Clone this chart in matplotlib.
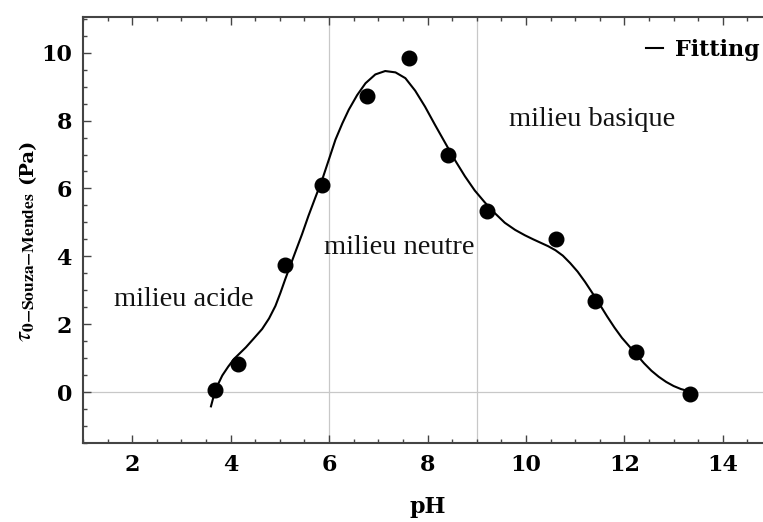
import matplotlib
matplotlib.use('Agg')
import matplotlib.pyplot as plt
from matplotlib.ticker import MultipleLocator

plt.rcParams['mathtext.fontset'] = 'stix'

# measured yield stress vs pH
ph = [3.68, 4.14, 5.10, 5.85, 6.77, 7.62, 8.42, 9.21, 10.62, 11.41, 12.24, 13.34]
tau0 = [0.05, 0.83, 3.75, 6.09, 8.73, 9.83, 6.98, 5.35, 4.50, 2.68, 1.17, -0.05]

# fitted curve, sampled along its length
fit_ph = [3.60, 3.64, 3.68, 3.75, 3.83, 3.95, 4.07, 4.19, 4.31, 4.47, 4.64, 4.78,
          4.91, 5.01, 5.11, 5.21, 5.31, 5.45, 5.58, 5.72, 5.86, 6.00, 6.13, 6.27,
          6.40, 6.57, 6.74, 6.94, 7.14, 7.35, 7.55, 7.75, 7.95, 8.15, 8.36, 8.56,
          8.76, 8.96, 9.17, 9.37, 9.57, 9.78, 9.98, 10.15, 10.30, 10.45, 10.60,
          10.75, 10.90, 11.05, 11.20, 11.35, 11.50, 11.65, 11.80, 11.95, 12.10,
          12.25, 12.40, 12.55, 12.70, 12.85, 13.00, 13.15, 13.30, 13.40]
fit_tau = [-0.42, -0.20, 0.00, 0.25, 0.49, 0.75, 0.98, 1.15, 1.32, 1.58, 1.86, 2.17,
           2.54, 2.92, 3.33, 3.72, 4.11, 4.65, 5.19, 5.73, 6.26, 6.87, 7.44, 7.92,
           8.32, 8.75, 9.10, 9.36, 9.46, 9.42, 9.25, 8.88, 8.41, 7.88, 7.34, 6.83,
           6.36, 5.94, 5.58, 5.27, 4.99, 4.78, 4.62, 4.50, 4.40, 4.30, 4.18,
           4.02, 3.80, 3.55, 3.25, 2.92, 2.58, 2.23, 1.90, 1.60, 1.35,
           1.10, 0.85, 0.63, 0.45, 0.30, 0.18, 0.09, 0.03, 0.00]

zones = ['milieu acide', 'milieu neutre', 'milieu basique']
zone_x = [3.05, 7.42, 11.35]
zone_y = [2.74, 4.27, 8.02]
borders = [6, 9]

fig = plt.figure(figsize=(7.63, 5.22), dpi=100)
ax = fig.add_axes([0.1088, 0.1513, 0.903, 0.816])

frame_col = '#444444'
for b in borders:
    ax.axvline(b, color='#c8c8c8', lw=0.9, zorder=0)
ax.axhline(0, color='#c8c8c8', lw=0.9, zorder=0)

ax.plot(fit_ph, fit_tau, color='black', lw=1.5, label='Fitting', zorder=2)
ax.plot(ph, tau0, 'o', color='black', ms=10.5, zorder=3)

for t, x, y in zip(zones, zone_x, zone_y):
    ax.text(x, y, t, ha='center', va='center', fontsize=20.5,
            family='Liberation Serif', color='#111111')

ax.set_xlim(1, 15)
ax.set_ylim(-1.5, 11.05)
ax.xaxis.set_major_locator(MultipleLocator(2))
ax.xaxis.set_minor_locator(MultipleLocator(0.5))
ax.yaxis.set_major_locator(MultipleLocator(2))
ax.yaxis.set_minor_locator(MultipleLocator(0.5))
ax.tick_params(which='both', direction='in', top=True, right=True,
               color=frame_col, width=1.0)
ax.tick_params(which='major', length=6, pad=8)
ax.tick_params(which='minor', length=3)
for s in ax.spines.values():
    s.set_color(frame_col)
    s.set_linewidth(1.5)

for lab in ax.get_xticklabels() + ax.get_yticklabels():
    lab.set_family('DejaVu Serif')
    lab.set_fontweight('bold')
    lab.set_fontsize(16)

ax.set_xlabel('pH', family='DejaVu Serif', fontweight='bold', fontsize=16, labelpad=14)

# y label in two pieces: symbol with subscript, then the unit
fig.text(25 / 763, 1 - 267 / 522, r'$\tau_{\mathbf{0{-}Souza{-}Mendes}}$',
         rotation=90, ha='center', va='center', fontsize=18)
fig.text(27 / 763, 1 - 161 / 522, '(Pa)', rotation=90, ha='center', va='center',
         family='DejaVu Serif', fontweight='bold', fontsize=14)

ax.legend(loc='center right', bbox_to_anchor=(0.995, 1 - 50 / 522),
          bbox_transform=fig.transFigure, frameon=False, handlelength=0.8,
          handletextpad=0.5, borderpad=0, borderaxespad=0,
          prop={'family': 'DejaVu Serif', 'weight': 'bold', 'size': 16})

fig.savefig('out.png', dpi=100)
